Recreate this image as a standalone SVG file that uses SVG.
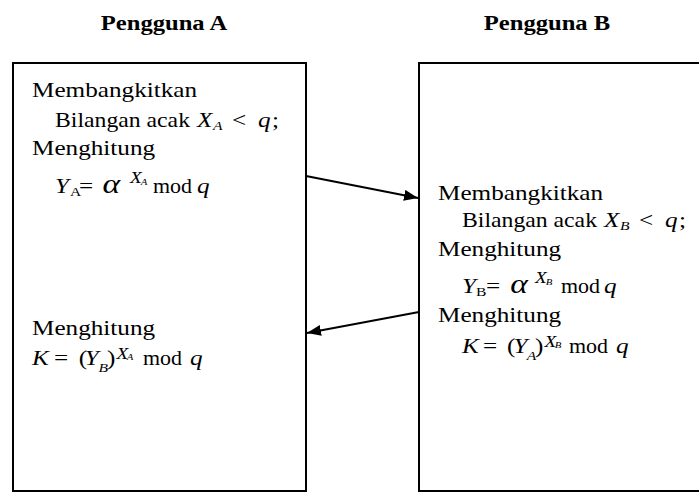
<svg xmlns="http://www.w3.org/2000/svg" width="699" height="492" viewBox="0 0 699 492">
  <style>
    .title { font-size: 20.5px; font-weight: bold; text-anchor: middle; }
    .t { font-size: 21px; }
    .i { font-size: 21px; font-style: italic; }
    .sub { font-size: 13px; }
    .subi { font-size: 13px; font-style: italic; }
    .alpha { font-size: 28px; font-style: italic; }
    .sup { font-size: 16px; font-style: italic; }
    .tiny { font-size: 9px; font-style: italic; }
    .box { fill: #fff; stroke: #000; stroke-width: 2; }
    .conn { stroke: #000; stroke-width: 2; fill: none; marker-end: url(#head); }
  </style>
  <defs>
    <marker id="head" viewBox="0 0 14 11" refX="14" refY="5.5" markerWidth="14" markerHeight="11" markerUnits="userSpaceOnUse" orient="auto">
      <path d="M0,0 L14,5.5 L0,11 Z" fill="#000"/>
    </marker>
  </defs>
  <rect width="699" height="492" fill="#fff"/>

  <g font-family="'Liberation Serif', 'DejaVu Serif', serif" fill="#000">
  <!-- column headings -->
  <g transform="scale(1.2 1)">
    <text class="title" x="136.7" y="30">Pengguna A</text>
    <text class="title" x="455.8" y="30">Pengguna B</text>
  </g>

  <!-- user A -->
  <g id="pengguna-a">
    <rect class="box" x="13" y="63" width="293" height="428"/>
    <g transform="translate(32 97) scale(1.2 1)"><text class="t" x="0" y="0">Membangkitkan</text></g>
    <g transform="translate(55 127) scale(1.2 1)">
      <text class="t" x="0" y="0" textLength="112.5" lengthAdjust="spacingAndGlyphs">Bilangan acak</text>
      <text class="i" x="118.3" y="0">X</text>
      <text class="subi" x="131.7" y="3">A</text>
      <text class="t" x="147.5" y="0">&lt;</text>
      <text class="i" x="169.2" y="0">q</text>
      <text class="t" x="180.8" y="0">;</text>
    </g>
    <g transform="translate(32 155) scale(1.2 1)"><text class="t" x="0" y="0">Menghitung</text></g>
    <g transform="translate(55 193) scale(1.2 1)">
      <text class="i" x="0" y="0">Y</text>
      <text class="sub" x="12.5" y="3">A</text>
      <text class="t" x="20" y="0">=</text>
      <text class="alpha" x="39.5" y="0">α</text>
      <text class="sup" x="62.5" y="-10">X</text>
      <text class="tiny" x="71.5" y="-8">A</text>
      <text class="t" x="81.7" y="0" textLength="32.5" lengthAdjust="spacingAndGlyphs">mod</text>
      <text class="i" x="118.3" y="0">q</text>
    </g>
    <g transform="translate(32 335) scale(1.2 1)"><text class="t" x="0" y="0">Menghitung</text></g>
    <g transform="translate(32 365) scale(1.2 1)">
      <text class="i" x="0" y="0">K</text>
      <text class="t" x="18.3" y="0">=</text>
      <text class="t" x="39" y="0">(</text>
      <text class="i" x="44" y="0">Y</text>
      <text class="subi" x="55.5" y="7">B</text>
      <text class="t" x="62.5" y="0">)</text>
      <text class="sup" x="70.5" y="-6">X</text>
      <text class="tiny" x="79" y="-5">A</text>
      <text class="t" x="92.5" y="0" textLength="32.5" lengthAdjust="spacingAndGlyphs">mod</text>
      <text class="i" x="131.7" y="0">q</text>
    </g>
  </g>

  <!-- user B -->
  <g id="pengguna-b">
    <rect class="box" x="419" y="63" width="300" height="428"/>
    <g transform="translate(438 200) scale(1.2 1)"><text class="t" x="0" y="0">Membangkitkan</text></g>
    <g transform="translate(462 227) scale(1.2 1)">
      <text class="t" x="0" y="0" textLength="112.5" lengthAdjust="spacingAndGlyphs">Bilangan acak</text>
      <text class="i" x="118.3" y="0">X</text>
      <text class="subi" x="131.7" y="3">B</text>
      <text class="t" x="147.5" y="0">&lt;</text>
      <text class="i" x="169.2" y="0">q</text>
      <text class="t" x="180.8" y="0">;</text>
    </g>
    <g transform="translate(438 256) scale(1.2 1)"><text class="t" x="0" y="0">Menghitung</text></g>
    <g transform="translate(462 293) scale(1.2 1)">
      <text class="i" x="0" y="0">Y</text>
      <text class="sub" x="11.7" y="3">B</text>
      <text class="t" x="20" y="0">=</text>
      <text class="alpha" x="40.3" y="0">α</text>
      <text class="sup" x="60.8" y="-10">X</text>
      <text class="tiny" x="69.8" y="-8">B</text>
      <text class="t" x="82.5" y="0" textLength="32.5" lengthAdjust="spacingAndGlyphs">mod</text>
      <text class="i" x="118.3" y="0">q</text>
    </g>
    <g transform="translate(438 322) scale(1.2 1)"><text class="t" x="0" y="0">Menghitung</text></g>
    <g transform="translate(462 353) scale(1.2 1)">
      <text class="i" x="0" y="0">K</text>
      <text class="t" x="17.5" y="0">=</text>
      <text class="t" x="37.5" y="0">(</text>
      <text class="i" x="43" y="0">Y</text>
      <text class="subi" x="54" y="7">A</text>
      <text class="t" x="60.8" y="0">)</text>
      <text class="sup" x="68.8" y="-6">X</text>
      <text class="tiny" x="77.3" y="-5">B</text>
      <text class="t" x="89.2" y="0" textLength="32.5" lengthAdjust="spacingAndGlyphs">mod</text>
      <text class="i" x="128.3" y="0">q</text>
    </g>
  </g>
  </g>

  <!-- exchanged public values -->
  <g id="connectors">
    <line class="conn" x1="306" y1="176" x2="418" y2="198"/>
    <line class="conn" x1="419" y1="312" x2="307" y2="333"/>
  </g>
</svg>
